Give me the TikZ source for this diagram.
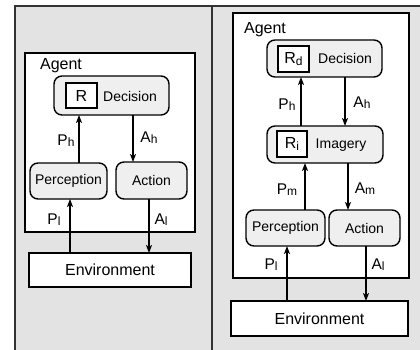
\documentclass[tikz,border=0pt]{standalone}
\usepackage{fontspec}
\setmainfont{Liberation Sans}
\usetikzlibrary{arrows.meta,calc}
\definecolor{bg}{HTML}{E3E3E3}
\definecolor{boxfill}{HTML}{EFEFEF}
\definecolor{framec}{HTML}{333333}
\newcommand\mysub[1]{\raisebox{-1.2pt}{\fontsize{12}{12}\selectfont #1}}
\begin{document}
\begin{tikzpicture}[x=1pt,y=-1pt,
  plain/.style={draw=black, line width=1.3pt, fill=white, inner sep=0pt, outer sep=0pt},
  rbox/.style={draw=black, line width=1.4pt, fill=boxfill, rounded corners=8pt, inner sep=0pt, outer sep=0pt, font=\fontsize{14}{14}\selectfont},
  rsq/.style={draw=black, line width=1.8pt, fill=white, inner sep=0pt, font=\fontsize{16}{16}\selectfont},
  lbl/.style={inner sep=0pt, font=\fontsize{15.5}{15.5}\selectfont},
  big/.style={inner sep=0pt, font=\fontsize{16}{16}\selectfont},
  txt/.style={inner sep=0pt, font=\fontsize{14}{14}\selectfont},
  arr/.style={line width=1.4pt, -{Stealth[length=8pt,width=6pt,inset=2pt]}},
]
\useasboundingbox (0,0) rectangle (420,350);
\fill[white] (0,0) rectangle (420,350);
\fill[bg] (15,6) rectangle (420,350);
\draw[framec, line width=2pt] (15,350) -- (15,6) -- (420,6);
\draw[framec, line width=1.5pt] (212,6) -- (212,350);

% ---------- left panel ----------
\node[plain, minimum width=170pt, minimum height=179pt] (agentL) at (110,142.5) {};
\node[big] (agentLt) at (61,66) {Agent};
\node[rbox, minimum width=115pt, minimum height=39pt] (decL) at (111.5,95.5) {};
\node[rsq, minimum width=31pt, minimum height=25pt] (rL) at (81.5,95.5) {R};
\node[txt] (decLt) at (130,96) {Decision};
\node[rbox, minimum width=77pt, minimum height=36pt] (percL) at (68.5,181) {Perception};
\node[rbox, minimum width=71pt, minimum height=37pt] (actL) at (151.5,180.5) {Action};
\node[plain, minimum width=162pt, minimum height=34pt, font=\fontsize{16}{16}\selectfont] (envL) at (110,270) {Environment};

\coordinate (phLx) at (79,0);
\coordinate (ahLx) at (133,0);
\coordinate (plLx) at (70,0);
\coordinate (alLx) at (149,0);
\draw[arr] (percL.north -| phLx) -- (decL.south -| phLx);
\draw[arr] (decL.south -| ahLx) -- (actL.north -| ahLx);
\draw[arr] (envL.north -| plLx) -- (percL.south -| plLx);
\draw[arr] (actL.south -| alLx) -- (envL.north -| alLx);
\node[lbl] (phL) at (66,141) {P\mysub{h}};
\node[lbl] (ahL) at (149,138) {A\mysub{h}};
\node[lbl] (plL) at (54,220) {P\mysub{l}};
\node[lbl] (alL) at (161,220) {A\mysub{l}};

% ---------- right panel ----------
\node[plain, minimum width=176pt, minimum height=265pt] (agentR) at (321,145.5) {};
\node[big] (agentRt) at (265,30) {Agent};
\node[rbox, minimum width=115pt, minimum height=37pt] (decR) at (324.5,58.5) {};
\node[rsq, minimum width=31pt, minimum height=26pt] (rdR) at (293.5,59) {R\mysub{d}};
\node[txt] (decRt) at (345,58) {Decision};
\node[rbox, minimum width=116pt, minimum height=37pt] (imgR) at (325,144.5) {};
\node[rsq, minimum width=30pt, minimum height=26pt] (riR) at (292,144) {R\mysub{i}};
\node[txt] (imgRt) at (341,145) {Imagery};
\node[rbox, minimum width=79pt, minimum height=36pt] (percR) at (285.5,228) {Perception};
\node[rbox, minimum width=71pt, minimum height=36pt] (actR) at (364.5,228) {Action};
\node[plain, minimum width=177pt, minimum height=35pt, font=\fontsize{16}{16}\selectfont] (envR) at (319.5,318.5) {Environment};

\coordinate (phRx) at (301,0);
\coordinate (ahRx) at (345,0);
\coordinate (pmRx) at (305,0);
\coordinate (amRx) at (348,0);
\coordinate (plRx) at (287,0);
\coordinate (alRx) at (366,0);
\draw[arr] (imgR.north -| phRx) -- (decR.south -| phRx);
\draw[arr] (decR.south -| ahRx) -- (imgR.north -| ahRx);
\draw[arr] (percR.north -| pmRx) -- (imgR.south -| pmRx);
\draw[arr] (imgR.south -| amRx) -- (actR.north -| amRx);
\draw[arr] (envR.north -| plRx) -- (percR.south -| plRx);
\draw[arr] (actR.south -| alRx) -- (envR.north -| alRx);
\node[lbl] (phR) at (287,105) {P\mysub{h}};
\node[lbl] (ahR) at (362,103) {A\mysub{h}};
\node[lbl] (pmR) at (287,190) {P\mysub{m}};
\node[lbl] (amR) at (365,189) {A\mysub{m}};
\node[lbl] (plR) at (271,265) {P\mysub{l}};
\node[lbl] (alR) at (378,265) {A\mysub{l}};
\end{tikzpicture}
\end{document}
